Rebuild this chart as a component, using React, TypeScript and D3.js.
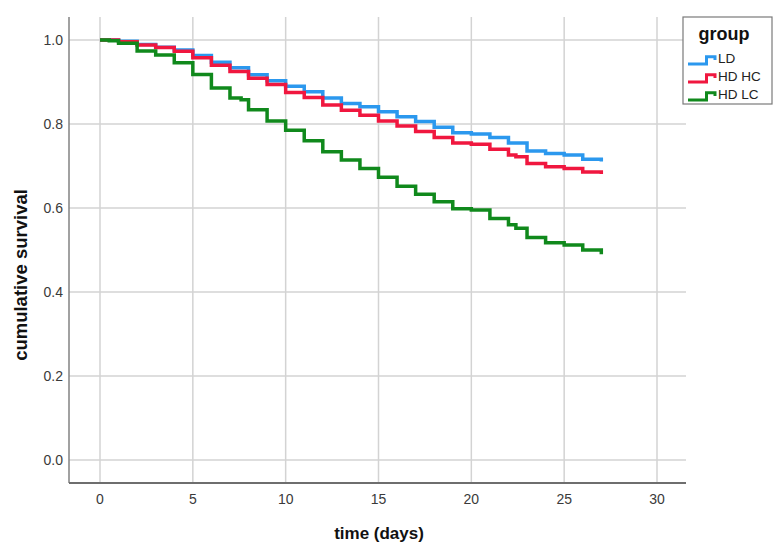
import React from 'react';
import * as d3 from 'd3';

// Kaplan-Meier style survival
const groups = ['LD', 'HD HC', 'HD LC'];
const colors = ['#2b98ee', '#f0173f', '#10891c'];

const ldTime = [0, 1, 2, 3, 4, 5, 6, 7, 8, 9, 10, 11, 12, 13, 14, 15, 16, 17, 18, 19, 20, 21, 22, 23, 24, 25, 26, 27];
const ldSurv = [1.0, 0.997, 0.989, 0.983, 0.976, 0.963, 0.947, 0.934, 0.917, 0.903, 0.89, 0.877, 0.862, 0.849,
  0.841, 0.829, 0.817, 0.806, 0.792, 0.779, 0.776, 0.768, 0.755, 0.736, 0.73, 0.726, 0.716, 0.711];

const hdhcTime = [0, 1, 2, 3, 4, 5, 6, 7, 8, 9, 10, 11, 12, 13, 14, 15, 16, 17, 18, 19, 20, 21, 22, 22.4, 23, 24, 25, 26, 27];
const hdhcSurv = [1.0, 0.996, 0.988, 0.982, 0.973, 0.958, 0.94, 0.925, 0.909, 0.894, 0.875, 0.863, 0.845, 0.833,
  0.821, 0.807, 0.795, 0.782, 0.768, 0.755, 0.752, 0.74, 0.726, 0.722, 0.706, 0.698, 0.694, 0.686, 0.681];

const hdlcTime = [0, 0.5, 1, 2, 3, 4, 5, 6, 7, 7.6, 8, 9, 10, 11, 12, 13, 14, 15, 16, 17, 18, 19, 20, 21, 22, 22.4, 23, 24, 25, 26, 27];
const hdlcSurv = [1.0, 0.998, 0.992, 0.974, 0.964, 0.946, 0.918, 0.886, 0.862, 0.858, 0.834, 0.807, 0.785, 0.76,
  0.734, 0.714, 0.694, 0.673, 0.652, 0.633, 0.615, 0.598, 0.595, 0.575, 0.56, 0.552, 0.53, 0.517, 0.512, 0.5, 0.49];

const xTicks = [0, 5, 10, 15, 20, 25, 30];
const yTicks = [0, 0.2, 0.4, 0.6, 0.8, 1.0];

const seriesTimes = [ldTime, hdhcTime, hdlcTime];
const seriesSurv = [ldSurv, hdhcSurv, hdlcSurv];

export default function App() {
  const W = 780, H = 547;
  const left = 69, right = 686, top = 17, bottom = 483;

  const x = d3.scaleLinear().domain([0, 30]).range([100, 657]);
  const y = d3.scaleLinear().domain([0, 1]).range([460, 40]);

  const line = d3.line<[number, number]>()
    .x(d => x(d[0]))
    .y(d => y(d[1]))
    .curve(d3.curveStepAfter);

  const sans = '"Liberation Sans", Arial, sans-serif';

  // legend icon: little step
  const icon = 'M0,6 H18.5 V-1.3 H27 V2';

  return (
    <svg width={W} height={H} style={{ position: 'absolute', left: 0, top: 0, background: '#fff' }}>
      {/* grid */}
      <g stroke="#d3d3d3" strokeWidth={1.5}>
        {xTicks.map(t => (
          <line key={'gx' + t} x1={x(t)} x2={x(t)} y1={top} y2={bottom} />
        ))}
        {yTicks.map(t => (
          <line key={'gy' + t} x1={left} x2={right} y1={y(t)} y2={y(t)} />
        ))}
      </g>

      {/* axes */}
      <line x1={left} x2={left} y1={top} y2={bottom} stroke="#8a8a8a" strokeWidth={1.6} />
      <line x1={left} x2={right} y1={bottom} y2={bottom} stroke="#6e6e6e" strokeWidth={1.8} />

      <g fontFamily={sans} fontSize={14} fill="#3a3a3a">
        {yTicks.map(t => (
          <text key={'ty' + t} x={63} y={y(t)} dy="0.35em" textAnchor="end">{d3.format('.1f')(t)}</text>
        ))}
        {xTicks.map(t => (
          <text key={'tx' + t} x={x(t)} y={504} textAnchor="middle">{t}</text>
        ))}
      </g>

      {/* curves */}
      {seriesTimes.map((ts, i) => {
        const pts = ts.map((t, j) => [t, seriesSurv[i][j]] as [number, number]);
        return (
          <path key={groups[i]} d={line(pts) || ''} fill="none" stroke={colors[i]} strokeWidth={3.5} />
        );
      })}

      {/* titles */}
      <text x={379} y={539} textAnchor="middle" fontFamily={sans} fontWeight="bold" fontSize={17} fill="#111">time (days)</text>
      <text transform="translate(27,275) rotate(-90)" textAnchor="middle" fontFamily={sans} fontWeight="bold" fontSize={18.5} fill="#111">cumulative survival</text>

      {/* legend */}
      <rect x={683} y={17} width={89} height={87} fill="#fff" stroke="#7a7a7a" strokeWidth={1.2} />
      <text x={724} y={40} textAnchor="middle" fontFamily={sans} fontWeight="bold" fontSize={18} fill="#111">group</text>
      {groups.map((g, i) => (
        <g key={'lg' + g} transform={`translate(688,${58 + i * 18})`}>
          <path d={icon} fill="none" stroke={colors[i]} strokeWidth={3} />
          <text x={30} y={0} dy="0.35em" fontFamily={sans} fontSize={13.5} fill="#222">{g}</text>
        </g>
      ))}
    </svg>
  );
}
